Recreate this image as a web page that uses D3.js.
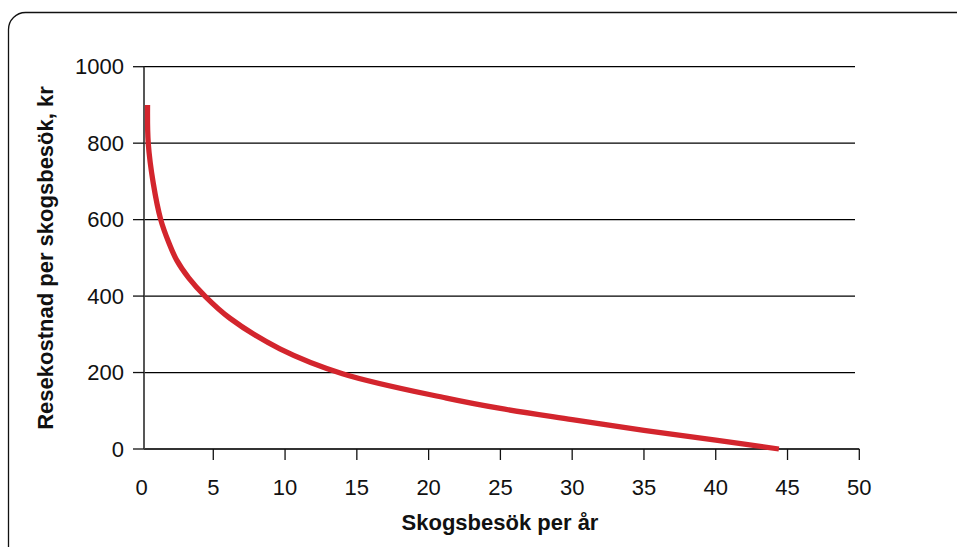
<!DOCTYPE html>
<html>
<head>
<meta charset="utf-8">
<script src="https://cdn.jsdelivr.net/npm/d3@7"></script>
<style>
  html, body { margin: 0; padding: 0; background: #fff; }
  svg { display: block; font-family: "Liberation Sans", Arial, sans-serif; }
</style>
</head>
<body>
<svg id="chart" width="957" height="547"></svg>
<script>
// Data
const visits = [0.42, 0.47, 0.82, 1.34, 1.9, 2.45, 3.3, 4.42, 6.16, 9.64, 14, 21.25, 25, 30, 35, 40, 44.4];
const costs  = [900, 800, 695, 600, 540, 494, 447, 400, 342, 262, 197, 133, 106, 77, 49, 23, 0];
const xTicks = [0, 5, 10, 15, 20, 25, 30, 35, 40, 45, 50];
const yTicks = [0, 200, 400, 600, 800, 1000];
const xTitle = "Skogsbesök per år";
const yTitle = "Resekostnad per skogsbesök, kr";

const svg = d3.select("#chart");

// Frame with rounded top-left corner
const fx = 8.5, fy = 12.5, r = 17;
svg.append("path")
  .attr("d", `M${fx},560 L${fx},${fy + r} A${r},${r} 0 0 1 ${fx + r},${fy} L970,${fy}`)
  .attr("fill", "none").attr("stroke", "#111").attr("stroke-width", 1.3);

const x = d3.scaleLinear().domain([0, 50]).range([141.5, 859.3]);
const y = d3.scaleLinear().domain([0, 1000]).range([449, 66.7]);
const axisX = 144; // vertical axis position

// Gridlines
svg.append("g").selectAll("line")
  .data(yTicks.filter(d => d > 0))
  .join("line")
  .attr("x1", axisX).attr("x2", 855)
  .attr("y1", d => y(d)).attr("y2", d => y(d))
  .attr("stroke", "#000").attr("stroke-width", 1.3);

// X axis
const gx = svg.append("g").attr("transform", `translate(0,${y(0)})`);
gx.append("line").attr("x1", axisX).attr("x2", x(50)).attr("y1", 0).attr("y2", 0)
  .attr("stroke", "#333").attr("stroke-width", 1.8);
gx.selectAll("line.tick").data(xTicks.filter(d => d > 0)).join("line")
  .attr("class", "tick")
  .attr("x1", d => x(d)).attr("x2", d => x(d)).attr("y1", 0).attr("y2", 11)
  .attr("stroke", "#111").attr("stroke-width", 1.3);
gx.selectAll("text").data(xTicks).join("text")
  .attr("x", d => x(d)).attr("y", 46)
  .attr("text-anchor", "middle").attr("font-size", 22).attr("fill", "#111")
  .text(d => d);

// Y axis
const gy = svg.append("g");
gy.append("line").attr("x1", axisX).attr("x2", axisX).attr("y1", y(0)).attr("y2", y(1000))
  .attr("stroke", "#444").attr("stroke-width", 1.8);
gy.selectAll("line.tick").data(yTicks).join("line")
  .attr("class", "tick")
  .attr("x1", 133).attr("x2", axisX).attr("y1", d => y(d)).attr("y2", d => y(d))
  .attr("stroke", "#111").attr("stroke-width", 1.3);
gy.selectAll("text").data(yTicks).join("text")
  .attr("x", 124).attr("y", d => y(d)).attr("dy", "0.35em")
  .attr("text-anchor", "end").attr("font-size", 22).attr("fill", "#111")
  .text(d => d);

// Curve
const pts = visits.map((v, i) => [v, costs[i]]);
const line = d3.line().x(d => x(d[0])).y(d => y(d[1])).curve(d3.curveCatmullRom.alpha(0.5));
svg.append("path").datum(pts)
  .attr("d", line)
  .attr("fill", "none").attr("stroke", "#d3252d").attr("stroke-width", 5.3)
  .attr("stroke-linecap", "butt").attr("stroke-linejoin", "round");

// Titles
svg.append("text")
  .attr("x", 500).attr("y", 530)
  .attr("text-anchor", "middle").attr("font-size", 22).attr("font-weight", "bold").attr("fill", "#111")
  .text(xTitle);
svg.append("text")
  .attr("transform", `translate(53,258) rotate(-90)`)
  .attr("text-anchor", "middle").attr("font-size", 22).attr("font-weight", "bold").attr("fill", "#111")
  .text(yTitle);
</script>
</body>
</html>
